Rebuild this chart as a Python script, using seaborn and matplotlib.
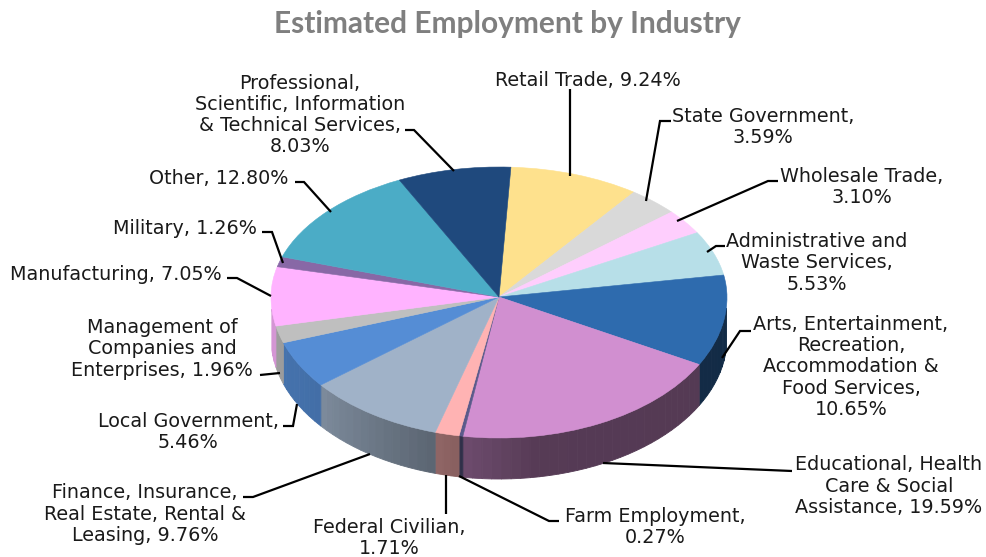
import numpy as np
import matplotlib
matplotlib.use("Agg")
import matplotlib.pyplot as plt
from matplotlib.collections import PolyCollection
import seaborn as sns

# ---- data ----
categories = ["Retail Trade", "State Government", "Wholesale Trade",
              "Administrative and Waste Services",
              "Arts, Entertainment, Recreation, Accommodation & Food Services",
              "Educational, Health Care & Social Assistance", "Farm Employment",
              "Federal Civilian", "Finance, Insurance, Real Estate, Rental & Leasing",
              "Local Government", "Management of Companies and Enterprises",
              "Manufacturing", "Military", "Other",
              "Professional, Scientific, Information & Technical Services"]
values = [9.24, 3.59, 3.10, 5.53, 10.65, 19.59, 0.27, 1.71, 9.76, 5.46, 1.96,
          7.05, 1.26, 12.80, 8.03]
label_texts = ["Retail Trade, 9.24%", "State Government,\n3.59%", "Wholesale Trade,\n3.10%",
               "Administrative and\nWaste Services,\n5.53%",
               "Arts, Entertainment,\nRecreation,\nAccommodation &\nFood Services,\n10.65%",
               "Educational, Health\nCare & Social\nAssistance, 19.59%",
               "Farm Employment,\n0.27%", "Federal Civilian,\n1.71%",
               "Finance, Insurance,\nReal Estate, Rental &\nLeasing, 9.76%",
               "Local Government,\n5.46%",
               "Management of\nCompanies and\nEnterprises, 1.96%",
               "Manufacturing, 7.05%", "Military, 1.26%", "Other, 12.80%",
               "Professional,\nScientific, Information\n& Technical Services,\n8.03%"]
title_text = "Estimated Employment by Industry"

# ---- style ----
slice_colors = ["#FEE18D", "#D9D9D9", "#FECEFD", "#B7DFE8", "#2E6BAE", "#D18FD0",
                "#5B5A8A", "#FFB3B3", "#A0B2C8", "#558DD5", "#BFBFBF", "#FFB3FF",
                "#8868A6", "#4BACC6", "#1F497D"]
# pixel layout: label centre (x, y)
label_pos = [(588, 80), (763, 127), (862, 187), (817, 263), (851, 367), (889, 486),
             (655, 527), (389, 538), (145, 514), (188, 432), (162, 349), (116, 274),
             (185, 228), (219, 178), (300, 115)]
leaders = [[(570, 89), (570, 176)],
           [(671, 121), (660, 121), (646, 201)],
           [(778, 181), (768, 181), (677, 221)],
           [(725, 246), (716, 246), (707, 252)],
           [(751, 331), (740, 331), (722, 358)],
           [(792, 471), (603, 463)],
           [(559, 521), (549, 521), (459, 476)],
           [(446, 514), (446, 475)],
           [(243, 497), (253, 497), (370, 454)],
           [(283, 426), (293, 426), (297, 404)],
           [(260, 375), (280, 373)],
           [(227, 278), (237, 278), (271, 296)],
           [(262, 232), (272, 232), (283, 263)],
           [(295, 182), (304, 182), (331, 212)],
           [(405, 130), (414, 130), (454, 171)]]

W, H = 987, 557
CX, CY, RX = 499, 297, 228
UP, DOWN, DEPTH = 130 / 228, 141 / 228, 41

sns.set_theme(style="white")
palette = sns.color_palette(slice_colors)
fig = plt.figure(figsize=(W / 100, H / 100), dpi=100, facecolor="white")
ax = fig.add_axes([0, 0, 1, 1])

wedges, _ = ax.pie(values, colors=palette, startangle=87, counterclock=False,
                   radius=RX, center=(0, 0), wedgeprops=dict(linewidth=0.4, edgecolor="none"))
for w, c in zip(wedges, palette):
    w.set_edgecolor(c)


def forward(y):
    y = np.asarray(y, dtype=float)
    return np.where(y > 0, y * UP, y * DOWN)


def inverse(p):
    p = np.asarray(p, dtype=float)
    return np.where(p > 0, p / UP, p / DOWN)


ax.set_aspect("auto")
ax.set_xticks([])
ax.set_yticks([])
ax.set_yscale("function", functions=(forward, inverse))
ax.set_xlim(-CX, W - CX)
ax.set_ylim(-(H - CY) / DOWN, CY / UP)
ax.set_axis_off()

# side wall of the disc, taken from the wedge angles
polys, face = [], []
for w, c in zip(wedges, palette):
    n = max(2, int((w.theta2 - w.theta1) / 2.5) + 1)
    edges = np.linspace(w.theta1, w.theta2, n + 1)
    for a0, a1 in zip(edges[:-1], edges[1:]):
        ts = np.radians(np.linspace(a0, a1, 4))
        keep = np.sin(ts) < -0.08
        if not keep.any():
            continue
        ts = ts[keep]
        x = RX * np.cos(ts)
        y = RX * np.sin(ts)
        low = y - DEPTH / DOWN
        polys.append(np.column_stack([np.r_[x, x[::-1]], np.r_[y, low[::-1]]]))
        cw = (90 - np.degrees(ts.mean())) % 360
        k = np.interp(cw, [90, 170, 190, 231, 270], [0.40, 0.41, 0.53, 0.78, 0.85])
        face.append(tuple(np.array(c) * k))
ax.add_collection(PolyCollection(polys, facecolors=face, edgecolors=face,
                                 linewidths=0.6, zorder=0.5), autolim=False)

# overlay in pixel coordinates for text and leaders
ov = fig.add_axes([0, 0, 1, 1], facecolor="none")
ov.set_xlim(0, W)
ov.set_ylim(H, 0)
ov.set_axis_off()
for pts in leaders:
    xs, ys = zip(*pts)
    ov.plot(xs, ys, color="black", lw=1.6, solid_capstyle="butt", solid_joinstyle="miter")
for s, (x, y) in zip(label_texts, label_pos):
    ov.text(x, y, s, ha="center", va="center", fontsize=13.8, color="#1a1a1a",
            family="DejaVu Sans", linespacing=1.14)
ov.text(507, 24, title_text, ha="center", va="center", fontsize=21.5, color="#7F7F7F",
        family="Lato", fontweight="bold")

fig.savefig("out.png", dpi=100, facecolor="white")
